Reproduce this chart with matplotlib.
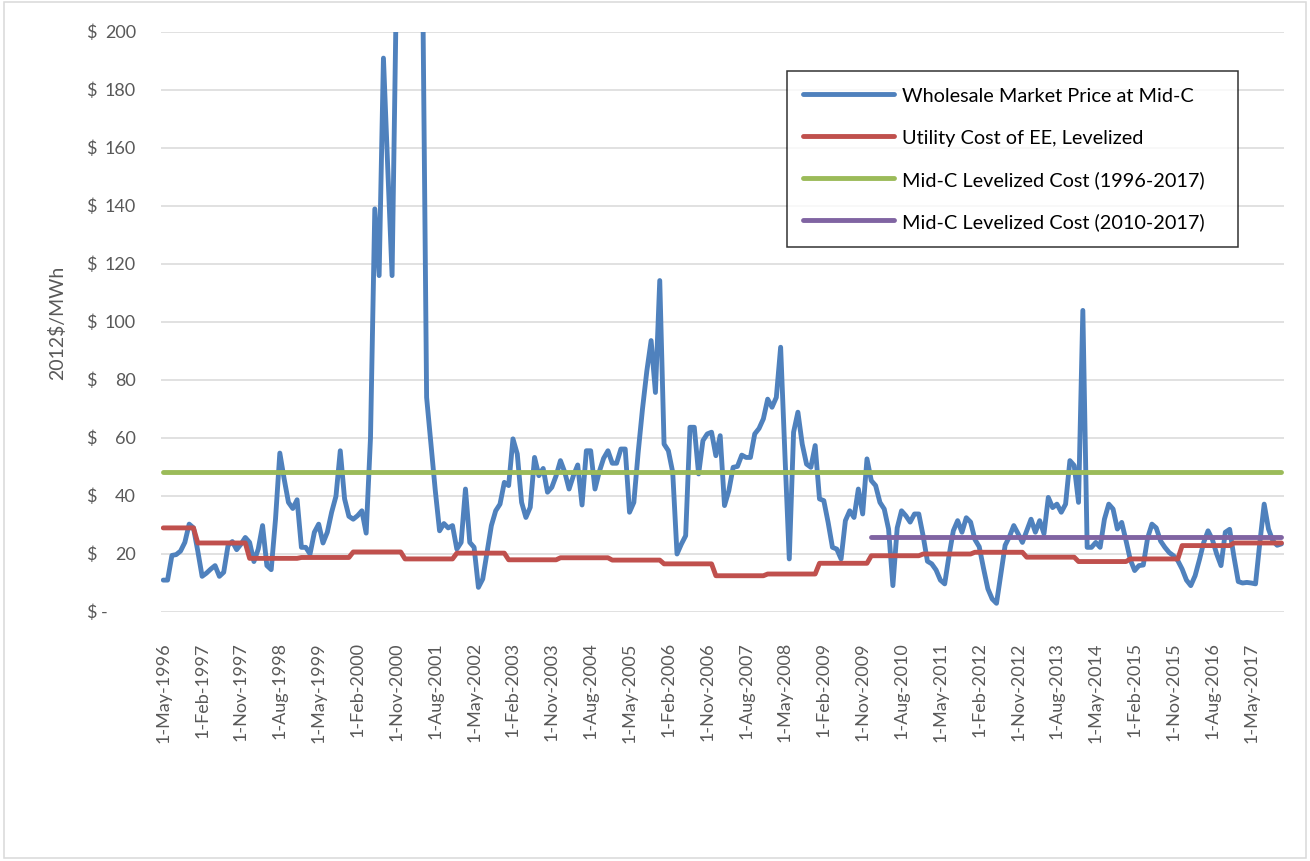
"""Mid-C wholesale power price vs. utility cost of energy efficiency, 1996-2017."""

import matplotlib

matplotlib.use("Agg")
import matplotlib.pyplot as plt
import pandas as pd
from matplotlib.patches import Rectangle


# monthly categories, May 1996 .. Dec 2017
MONTHS = pd.date_range("1996-05-01", "2017-12-01", freq="MS")

# Wholesale market price at Mid-C, 2012$/MWh.
# Values above $200 leave the top of the axis, so those are rough.
MIDC_PRICE = [
    # 1996 May-Dec
    11.0, 11.0, 19.5, 19.8, 21.0, 24.0, 30.3, 29.0,
    # 1997
    21.0, 12.3, 13.4, 14.8, 16.0, 12.3, 13.7, 22.9, 24.3, 21.5, 23.4, 25.7,
    # 1998
    24.0, 17.4, 21.7, 29.8, 16.0, 14.6, 32.0, 54.8, 45.9, 37.8, 35.7, 38.7,
    # 1999
    22.3, 22.3, 20.0, 27.5, 30.3, 23.8, 27.5, 34.4, 39.9, 55.6, 39.0, 33.0,
    # 2000
    32.0, 33.2, 34.9, 27.2, 60.0, 139.0, 116.0, 191.0, 153.0, 116.0, 215.0, 280.0,
    # 2001
    330.0, 300.0, 340.0, 270.0, 231.0, 74.0, 58.0, 42.0, 28.0, 30.5, 29.0, 29.8,
    # 2002
    21.7, 24.0, 42.4, 24.0, 22.3, 8.5, 11.4, 20.6, 29.8, 34.9, 37.2, 44.7,
    # 2003
    43.6, 59.7, 54.5, 37.8, 32.6, 36.1, 53.3, 47.0, 49.5, 41.3, 43.0, 47.0,
    # 2004
    52.2, 48.2, 42.4, 47.0, 50.7, 36.9, 55.6, 55.6, 42.4, 48.4, 53.0, 55.6,
    # 2005
    51.3, 51.3, 56.2, 56.2, 34.4, 37.8, 55.0, 70.0, 83.0, 93.6, 75.7, 114.3,
    # 2006
    57.9, 55.6, 48.2, 20.0, 23.4, 26.3, 63.7, 63.7, 47.6, 59.1, 61.4, 62.0,
    # 2007
    53.9, 60.8, 36.7, 41.8, 49.9, 50.2, 54.1, 53.3, 53.3, 61.4, 63.3, 66.6,
    # 2008
    73.4, 70.6, 74.0, 91.3, 54.0, 18.3, 62.0, 68.9, 57.9, 51.0, 49.9, 57.4,
    # 2009
    39.0, 38.4, 30.9, 22.3, 21.7, 18.3, 31.5, 34.9, 32.6, 42.4, 33.8, 52.8,
    # 2010
    45.3, 43.6, 37.8, 35.5, 28.6, 9.1, 29.0, 34.9, 33.2, 31.0, 33.8, 33.8,
    # 2011
    26.3, 17.5, 16.6, 14.5, 11.0, 9.7, 19.4, 28.0, 31.5, 27.5, 32.5, 31.0,
    # 2012
    25.0, 22.5, 15.0, 8.0, 4.5, 3.0, 13.0, 23.0, 26.0, 29.8, 27.0, 24.0,
    # 2013
    28.0, 32.0, 27.5, 31.5, 27.0, 39.5, 36.0, 37.2, 34.4, 37.2, 52.2, 50.5,
    # 2014
    37.8, 104.0, 22.3, 22.3, 24.0, 22.3, 32.0, 37.2, 35.5, 28.6, 30.9, 24.6,
    # 2015
    18.0, 14.3, 16.0, 16.2, 25.5, 30.3, 29.0, 24.5, 22.3, 20.5, 19.4, 17.7,
    # 2016
    14.8, 11.0, 9.1, 12.5, 18.0, 24.0, 28.0, 25.0, 20.0, 16.0, 27.5, 28.5,
    # 2017
    19.0, 10.5, 10.0, 10.2, 10.0, 9.7, 24.0, 37.2, 28.6, 24.6, 23.0, 23.5,
]

# utility cost of EE, levelized -- one value per calendar year
EE_YEARS = list(range(1996, 2018))
EE_COST = [29.0, 23.8, 18.5, 18.8, 20.7, 18.3, 20.3, 18.0, 18.7, 17.9, 16.6,
           12.5, 13.1, 16.8, 19.4, 20.0, 20.6, 18.9, 17.4, 18.3, 22.9, 23.8]

LEVELIZED_ALL = 48.2      # Mid-C levelized cost 1996-2017
LEVELIZED_RECENT = 25.7   # Mid-C levelized cost 2010-2017
RECENT_START = pd.Timestamp("2010-01-01")

Y_TICKS = [0, 20, 40, 60, 80, 100, 120, 140, 160, 180, 200]
Y_NUMBERS = ["-", "20", "40", "60", "80", "100", "120", "140", "160", "180", "200"]
LABEL_EVERY = 9  # months between x labels

SERIES_NAMES = [
    "Wholesale Market Price at Mid-C",
    "Utility Cost of EE, Levelized",
    "Mid-C Levelized Cost (1996-2017)",
    "Mid-C Levelized Cost (2010-2017)",
]
COLORS = ["#4F81BD", "#C0504D", "#9BBB59", "#8064A2"]
GRID = "#D9D9D9"
TEXT = "#595959"
LW = 3.5
TICK_FS = 13


def main():
    plt.rcParams["font.family"] = ["Lato", "DejaVu Sans"]
    assert len(MIDC_PRICE) == len(MONTHS)

    x = list(range(len(MONTHS)))
    ee_by_year = dict(zip(EE_YEARS, EE_COST))
    ee = [ee_by_year[m.year] for m in MONTHS]
    flat_all = [LEVELIZED_ALL] * len(MONTHS)
    recent_x = [i for i, m in enumerate(MONTHS) if m >= RECENT_START]
    flat_recent = [LEVELIZED_RECENT] * len(recent_x)

    fig = plt.figure(figsize=(13.1, 8.62), dpi=100)
    ax = fig.add_axes([161.1 / 1310, 1 - 613 / 862, 1122.5 / 1310, 580 / 862])

    line_kw = dict(linewidth=LW, solid_capstyle="round", solid_joinstyle="round")
    ax.plot(x, MIDC_PRICE, color=COLORS[0], label=SERIES_NAMES[0], zorder=3, **line_kw)
    ax.plot(x, ee, color=COLORS[1], label=SERIES_NAMES[1], zorder=4, **line_kw)
    ax.plot(x, flat_all, color=COLORS[2], label=SERIES_NAMES[2], zorder=4, **line_kw)
    ax.plot(recent_x, flat_recent, color=COLORS[3], label=SERIES_NAMES[3], zorder=4, **line_kw)

    ax.set_xlim(-0.5, len(MONTHS) - 0.5)
    ax.set_ylim(0, 200)
    for side in ["top", "right", "left", "bottom"]:
        ax.spines[side].set_visible(False)
    ax.set_yticks(Y_TICKS)
    ax.set_yticklabels([])
    ax.yaxis.grid(True, color=GRID, linewidth=1.1)
    ax.set_axisbelow(True)
    ax.tick_params(axis="y", length=0)

    # accounting-style labels: "$" flush left, number flush right
    ytrans = ax.get_yaxis_transform()
    for val, num in zip(Y_TICKS, Y_NUMBERS):
        ax.text(-0.0669, val, "$", transform=ytrans, ha="left", va="center",
                fontsize=TICK_FS, color=TEXT)
        right = -0.0473 if num == "-" else -0.0224
        ax.text(right, val, num, transform=ytrans, ha="right", va="center",
                fontsize=TICK_FS, color=TEXT)

    ticks = x[::LABEL_EVERY]
    labels = [f"{m.day}-{m.strftime('%b')}-{m.year}" for m in MONTHS[::LABEL_EVERY]]
    ax.set_xticks(ticks, labels, rotation=90, fontsize=TICK_FS, color=TEXT)
    ax.tick_params(axis="x", length=0, pad=21)

    ax.set_ylabel("2012$/MWh", fontsize=14, color=TEXT)
    ax.yaxis.set_label_coords(-0.0927, 0.5)
    ax.yaxis.label.set_va("center")

    # legend box spans x 787-1238, y 72-246 px in the original
    leg = ax.legend(
        loc="upper left",
        bbox_to_anchor=(787 / 1310, 1 - 246 / 862, 451 / 1310, 174 / 862),
        bbox_transform=fig.transFigure,
        mode="expand",
        borderaxespad=0,
        fontsize=14.3,
        handlelength=4.57,
        handletextpad=0.4,
        labelspacing=1.23,
        borderpad=0.82,
        fancybox=False,
    )
    leg.get_frame().set_edgecolor("black")
    leg.get_frame().set_linewidth(1.1)

    fig.patches.append(Rectangle((4 / 1310, 3 / 862), 1302 / 1310, 856 / 862,
                                 transform=fig.transFigure, fill=False,
                                 edgecolor=GRID, linewidth=1.1))

    fig.savefig("out.png", dpi=100)
    plt.close(fig)


if __name__ == "__main__":
    main()
